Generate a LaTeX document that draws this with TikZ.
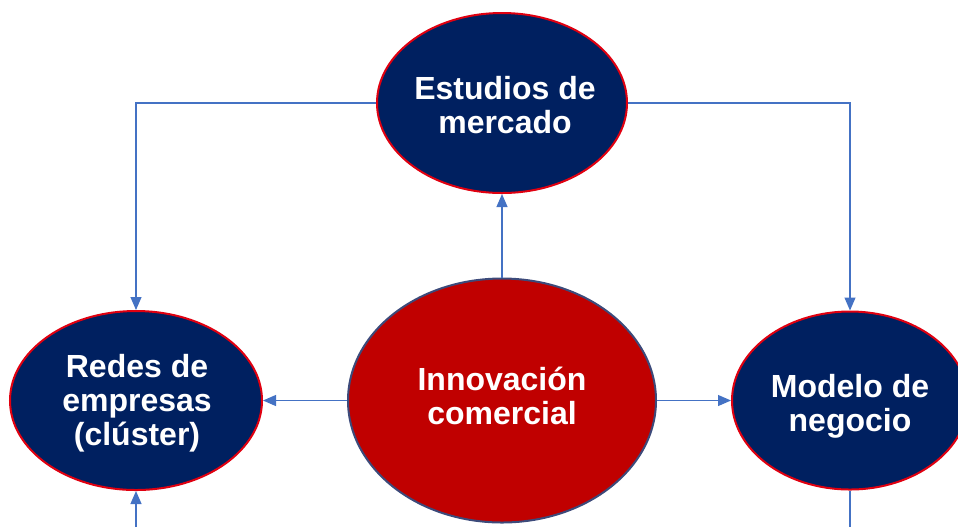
\documentclass[tikz,border=0pt]{standalone}
\usepackage{fontspec}
\setmainfont{Liberation Sans}
\usetikzlibrary{shapes.geometric,arrows.meta}
\definecolor{navy}{HTML}{002060}
\definecolor{redline}{HTML}{E00010}
\definecolor{redfill}{HTML}{C00000}
\definecolor{cborder}{HTML}{3C4A7A}
\definecolor{conn}{HTML}{4472C4}
\tikzset{
  bluebub/.style={ellipse, draw=redline, fill=navy, line width=1pt, inner sep=0pt},
  redbub/.style={ellipse, draw=cborder, fill=redfill, line width=1pt, inner sep=0pt},
  lbl/.style={text=white, font=\fontsize{16pt}{17pt}\selectfont\bfseries, align=center, inner sep=0pt},
  conn/.style={draw=conn, line width=0.6pt},
  arr/.style={conn, -{Triangle[length=6.5pt,width=5.5pt]}}
}
\begin{document}
\begin{tikzpicture}[x=0.5pt,y=-0.5pt]
\useasboundingbox (0,0) rectangle (958,527);
\clip (0,0) rectangle (958,527);
\node[bluebub, minimum width=125pt, minimum height=90pt] (top) at (502,103) {};
\node[redbub, minimum width=154pt, minimum height=122pt] (mid) at (502,400.5) {};
\node[bluebub, minimum width=126pt, minimum height=89.5pt] (left) at (136,400.5) {};
\node[bluebub, minimum width=118pt, minimum height=89pt] (right) at (850,400.5) {};
\node[lbl] (ttop) at (505,105) {Estudios de\\mercado};
\node[lbl] (tmid) at (502,396) {Innovación\\comercial};
\node[lbl] (tleft) at (137,403) {Redes de\\empresas\\(clúster)};
\node[lbl] (tright) at (850,406) {Modelo de\\negocio};
\coordinate (lb) at (136,527);
\coordinate (rb) at (850,527);
\draw[arr] (top.west) -| (left.north);
\draw[arr] (top.east) -| (right.north);
\draw[arr] (mid.north) -- (top.south);
\draw[arr] (mid.west) -- (left.east);
\draw[arr] (mid.east) -- (right.west);
\draw[arr] (lb) -- (left.south);
\draw[conn] (right.south) -- (rb);
\end{tikzpicture}
\end{document}
